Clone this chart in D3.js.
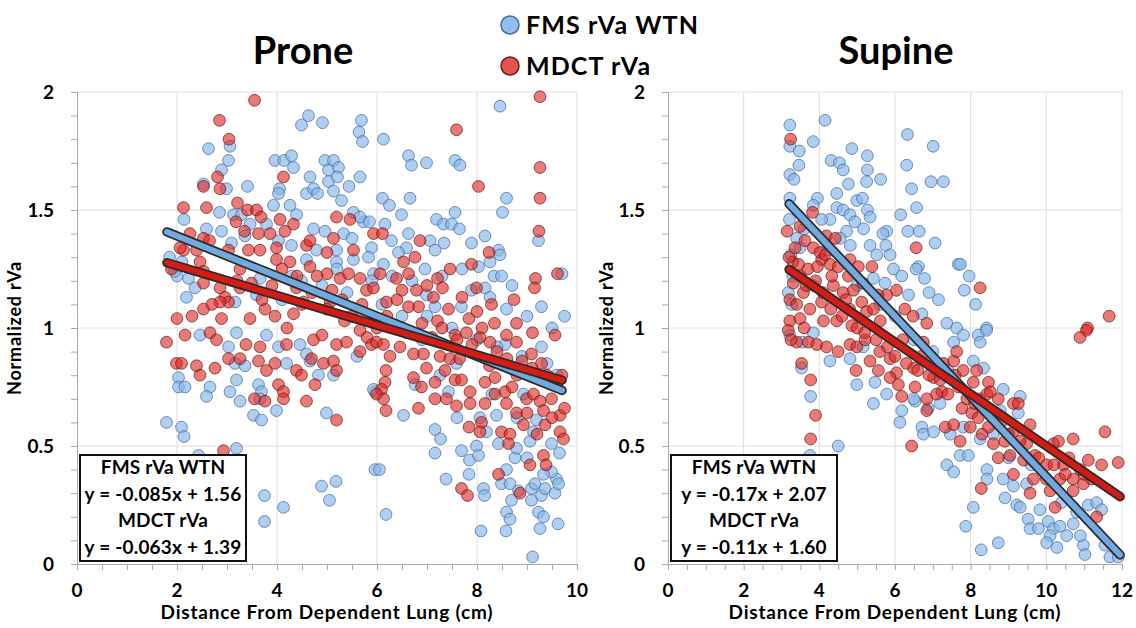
<!DOCTYPE html>
<html><head><meta charset="utf-8">
<script src="https://cdn.jsdelivr.net/npm/d3@7"></script>
<style>
html,body{margin:0;padding:0;background:#fff;}
svg{display:block;font-family:Lato,"Open Sans",sans-serif;}
</style></head>
<body><svg id="c" width="1136" height="628"></svg>
<script>
// ---------- DATA ----------
const seriesNames = ["FMS rVa WTN", "MDCT rVa"];
const panelTitles = ["Prone", "Supine"];
const xTitle = "Distance From Dependent Lung (cm)";
const yTitle = "Normalized rVa";
const proneXTicks = [0, 2, 4, 6, 8, 10];
const supineXTicks = [0, 2, 4, 6, 8, 10, 12];
const yTicks = [0, 0.5, 1, 1.5, 2];
const proneFit = { fms: [-0.085, 1.56], mdct: [-0.063, 1.39], range: [1.8, 9.7] };
const supineFit = { fms: [-0.17, 2.07], mdct: [-0.11, 1.60], range: [3.2, 11.95] };
const proneEq = ["FMS rVa WTN", "y = -0.085x + 1.56", "MDCT rVa", "y = -0.063x + 1.39"];
const supineEq = ["FMS rVa WTN", "y = -0.17x + 2.07", "MDCT rVa", "y = -0.11x + 1.60"];

const proneFms = [
[4.63,1.90],[4.49,1.86],[4.91,1.87],[5.69,1.88],[5.64,1.83],[5.71,1.79],[2.63,1.76],[3.06,1.77],[3.03,1.71],[2.89,1.67],[3.96,1.71],[4.14,1.71],[4.29,1.73],[4.33,1.68],[4.96,1.71],[5.13,1.71],[5.03,1.67],[5.23,1.68],[4.66,1.64],[5.03,1.62],[5.21,1.64],[5.66,1.64],[5.44,1.60],[2.53,1.61],[2.99,1.59],[3.41,1.60],[4.05,1.59],[4.03,1.57],[4.59,1.57],[4.73,1.59],[4.81,1.57],[5.13,1.58],[5.29,1.54],[3.93,1.52],[4.26,1.52],[4.39,1.48],[2.14,1.46],[2.85,1.49],[3.13,1.48],[3.29,1.48],[3.46,1.44],[2.59,1.42],[2.89,1.41],[3.09,1.36],[3.36,1.39],[3.79,1.44],[4.03,1.37],[4.29,1.35],[4.73,1.42],[4.96,1.41],[5.33,1.40],[5.53,1.49],[5.73,1.45],[5.66,1.47],[5.85,1.45],[5.89,1.34],[5.19,1.33],[4.79,1.33],[4.59,1.29],[5.19,1.28],[5.53,1.29],[5.83,1.30],[5.93,1.23],[2.0,1.22],[2.23,1.21],[2.36,1.17],[2.19,1.13],[3.66,1.21],[4.49,1.20],[3.16,1.11],[3.59,1.14],
[8.46,1.94],[6.13,1.80],[6.63,1.73],[6.69,1.69],[6.99,1.70],[7.56,1.71],[7.66,1.69],[6.11,1.55],[6.25,1.52],[6.66,1.55],[8.59,1.55],[8.51,1.49],[7.56,1.49],[6.49,1.48],[7.19,1.46],[7.33,1.44],[7.49,1.44],[7.65,1.42],[6.63,1.40],[8.16,1.39],[9.23,1.37],[6.16,1.44],[6.29,1.37],[7.06,1.37],[7.34,1.36],[7.89,1.36],[8.43,1.33],[8.46,1.31],[8.26,1.28],[8.03,1.26],[8.34,1.22],[8.49,1.22],[6.96,1.25],[7.16,1.33],[6.59,1.34],[6.43,1.32],[6.13,1.27],[7.89,1.16],[8.16,1.17],[8.26,1.13],[8.59,1.08],[9.29,1.09],[7.69,1.09],[6.99,1.14],[7.16,1.09],
[1.79,0.60],[2.09,0.58],[2.14,0.54],[2.03,0.79],[2.03,0.75],[2.16,0.75],[2.66,0.75],[2.59,0.71],[3.06,0.73],[3.26,0.69],[3.19,0.78],[3.03,0.92],[3.16,0.85],[3.36,0.84],[3.63,0.76],[3.69,0.73],[3.66,0.70],[3.53,0.63],[3.69,0.61],[3.99,0.65],[4.03,0.92],[4.19,0.85],[4.46,0.93],[4.66,0.86],[4.83,0.80],[5.13,0.80],[4.99,0.64],[3.19,0.49],[2.43,0.46],[3.75,0.29],[4.13,0.24],[3.75,0.18],[4.89,0.33],[5.18,0.35],[5.05,0.27],[5.96,0.73],[5.96,0.40],[2.46,0.97],[3.19,0.98],[3.79,0.97],[4.59,0.89],
[6.05,0.40],[6.18,0.21],[6.53,0.63],[7.16,0.57],[7.27,0.53],[7.16,0.47],[7.38,0.36],[7.69,0.48],[7.85,0.44],[7.84,0.38],[7.99,0.50],[8.03,0.46],[8.13,0.32],[8.15,0.29],[8.08,0.14],[8.43,0.51],[8.59,0.40],[8.76,0.45],[8.49,0.34],[8.66,0.34],[8.69,0.27],[8.59,0.22],[8.66,0.19],[8.58,0.14],[8.83,0.31],[9.09,0.32],[9.09,0.27],[9.16,0.34],[9.29,0.29],[9.23,0.22],[9.33,0.20],[9.26,0.15],[9.11,0.03],[9.36,0.32],[9.56,0.30],[9.59,0.36],[9.63,0.34],[9.62,0.17],[9.49,0.39],[9.33,0.38],[9.49,0.51],[9.65,0.47],[9.06,0.52],[9.13,0.56],[8.79,0.49],[8.19,0.56],[9.19,0.61],[8.93,0.72],[9.29,0.92],[8.56,0.93],[7.59,0.85],[7.26,0.80],[6.76,0.76],[5.93,0.74],[7.43,0.73],[8.06,0.62],[8.39,0.63],
[4.3,1.22],[4.9,1.18],[5.4,1.15],[6.1,1.1],[6.5,1.05],[7.0,1.05],[7.5,1.0],[8.0,0.95],[8.4,0.92],[8.9,0.88],[9.4,0.85],[9.6,0.8],[5.2,1.25],[6.7,1.2],[1.85,1.30],[1.95,1.24],[2.1,1.28],[9.7,1.23],[9.75,1.05],
[5.5,1.38],[5.9,1.2],[6.3,1.22],[7.3,1.22],[7.7,1.25],[8.7,1.18],[9.0,1.05],[9.5,1.0],[8.8,0.62],[9.0,0.45],[8.3,0.72],[7.6,0.62],[6.9,0.95],[5.6,0.88],[4.1,1.12]
];
const proneMdct = [
[3.55,1.965],[2.85,1.88],[3.04,1.80],[2.81,1.64],[2.53,1.60],[2.86,1.59],[4.13,1.64],[2.13,1.51],[2.59,1.51],[3.21,1.53],[3.41,1.50],[3.59,1.50],[3.68,1.47],[3.18,1.45],[4.06,1.46],[4.33,1.44],[5.19,1.47],[5.46,1.46],[5.93,1.40],[2.26,1.40],[2.53,1.38],[2.13,1.33],[2.06,1.34],[2.65,1.37],[3.35,1.41],[3.63,1.40],[3.86,1.40],[4.16,1.41],[4.59,1.35],[4.66,1.37],[5.13,1.38],[5.0,1.32],[5.53,1.33],[2.39,1.33],[3.03,1.33],[3.43,1.33],[3.66,1.33],[3.99,1.34],[2.46,1.28],[3.99,1.29],[4.26,1.28],[4.66,1.26],[1.89,1.25],[2.53,1.24],[3.26,1.25],[5.0,1.23],[5.26,1.21],[5.43,1.23],[5.66,1.21],[5.79,1.16],[2.53,1.19],[2.86,1.17],[2.96,1.13],[3.03,1.11],[2.86,1.11],[2.53,1.08],[2.89,1.04],[3.26,1.17],[3.49,1.19],[3.76,1.08],[3.96,1.05],[2.0,1.04],[3.46,1.04],[4.33,1.06],[4.53,1.11],[5.06,1.11],[5.93,1.03],[4.39,1.17],
[9.26,1.98],[7.59,1.84],[9.26,1.68],[8.03,1.60],[9.26,1.55],[9.24,1.41],[6.11,1.40],[6.86,1.37],[6.76,1.30],[6.53,1.28],[8.24,1.32],[7.89,1.27],[7.46,1.25],[9.61,1.23],[9.17,1.21],[9.15,1.17],[7.99,1.17],[8.74,1.12],[8.29,1.10],[7.21,1.21],[7.31,1.17],[7.13,1.13],[6.06,1.23],[6.39,1.21],[6.63,1.23],[6.79,1.16],[6.83,1.09],[6.63,1.09],[6.19,1.11],[7.43,1.08],[7.84,1.04],[8.79,1.02],[7.21,1.03],[5.93,1.17],
[1.79,0.94],[2.16,0.97],[2.66,0.98],[2.79,0.95],[1.99,0.85],[2.09,0.85],[2.39,0.84],[2.46,0.80],[2.76,0.83],[3.03,0.87],[3.26,0.87],[3.38,0.93],[3.63,0.86],[3.66,0.92],[3.79,0.82],[3.96,0.85],[4.03,0.76],[4.13,0.73],[4.13,0.70],[3.55,0.70],[3.76,0.69],[4.59,0.69],[4.76,0.76],[4.39,0.82],[4.49,0.80],[4.19,0.93],[4.73,0.95],[4.69,0.87],[4.93,0.85],[5.13,0.86],[5.19,0.82],[5.19,0.61],[5.19,0.93],[5.39,0.94],[5.66,0.90],[5.66,0.99],[5.89,0.93],[2.93,0.48],
[5.99,0.94],[6.13,0.93],[6.46,0.92],[6.26,0.88],[6.73,0.89],[6.93,0.89],[7.26,0.88],[7.46,0.87],[7.65,0.87],[7.56,0.97],[7.79,0.98],[8.06,0.96],[8.26,0.94],[8.59,0.97],[8.79,0.94],[9.11,0.98],[9.56,0.97],[9.09,0.89],[9.29,0.85],[6.18,0.82],[6.16,0.77],[6.09,0.74],[6.13,0.70],[6.18,0.65],[6.73,0.79],[6.89,0.75],[6.83,0.66],[6.99,0.83],[7.16,0.77],[7.16,0.70],[7.36,0.82],[7.39,0.70],[7.56,0.78],[7.59,0.67],[7.69,0.78],[7.86,0.73],[7.86,0.68],[7.84,0.58],[8.09,0.60],[8.06,0.56],[8.16,0.77],[8.16,0.68],[8.36,0.79],[8.36,0.72],[8.56,0.73],[8.59,0.68],[8.49,0.56],[8.66,0.55],[8.79,0.64],[8.93,0.59],[8.99,0.70],[9.13,0.72],[9.26,0.69],[9.33,0.65],[9.36,0.59],[9.49,0.70],[9.66,0.63],[9.66,0.56],[9.73,0.53],[9.33,0.46],[9.38,0.42],[9.06,0.42],[8.43,0.38],[7.69,0.32],[7.81,0.29],[8.86,0.30],[8.63,0.51],[5.99,0.72],
[4.2,1.0],[4.5,1.1],[4.7,1.15],[5.0,1.08],[5.3,1.12],[5.5,1.05],[5.7,1.1],[6.0,1.0],[6.2,1.05],[6.4,1.12],[6.6,0.98],[6.9,1.02],[7.1,0.96],[7.3,1.0],[7.6,0.95],[7.9,0.93],[8.1,1.0],[8.4,0.9],[8.6,0.87],[8.9,0.86],[9.1,0.83],[9.4,0.8],[9.6,0.76],[9.7,0.8],[3.7,1.12],[3.2,1.2],[2.7,1.1],[2.3,1.05],[4.9,0.97],[5.8,0.96],
[3.9,1.18],[4.1,1.25],[4.4,1.22],[4.8,1.22],[5.1,1.16],[5.35,1.03],[6.5,1.16],[7.0,1.18],[7.7,1.13],[8.0,1.07],[8.35,1.02],[8.8,0.8],[9.0,0.64],[9.2,0.55],[9.5,0.62],[9.75,0.66],[8.7,0.75],[8.25,0.84]
];
const supineFms = [
[3.22,1.86],[4.15,1.88],[3.84,1.79],[3.22,1.77],[3.47,1.75],[3.46,1.69],[3.22,1.65],[3.33,1.63],[4.86,1.76],[4.31,1.71],[4.53,1.70],[4.63,1.67],[5.27,1.73],[5.27,1.67],[5.25,1.62],[5.62,1.63],[4.77,1.61],[6.33,1.82],[7.01,1.77],[6.31,1.69],[6.95,1.62],[7.28,1.62],[6.44,1.59],[6.57,1.51],[6.15,1.48],[6.34,1.41],[6.64,1.41],[7.06,1.36],[3.22,1.55],[3.21,1.46],[3.95,1.55],[3.84,1.52],[4.46,1.57],[4.46,1.51],[4.63,1.50],[4.81,1.48],[4.99,1.54],[5.14,1.55],[5.27,1.50],[5.34,1.47],[4.28,1.46],[4.06,1.46],[4.94,1.45],[5.17,1.42],[4.72,1.41],[4.55,1.38],[4.82,1.35],[5.78,1.41],[5.68,1.40],[5.34,1.35],[5.76,1.35],[5.52,1.31],[5.87,1.31],[5.96,1.25],[6.18,1.22],[5.74,1.19],[6.36,1.14],[6.62,1.26],[6.56,1.25],[6.78,1.21],[7.67,1.27],[7.73,1.27],[7.96,1.22],[7.83,1.16],[8.13,1.10],[6.90,1.15],[7.15,1.12],[6.71,1.06],[7.37,1.02],[7.63,1.00],[8.42,1.00],[3.25,1.31],[3.49,1.34],[3.18,1.15],[3.27,1.10],[3.84,1.18],[5.43,1.21],
[3.53,0.83],[3.77,0.71],[4.50,0.50],[3.75,0.46],[4.99,0.76],[5.43,0.68],[5.47,0.77],[6.18,0.65],[6.13,0.60],[6.53,0.69],[6.71,0.58],[6.75,0.55],[7.02,0.56],[7.46,0.55],[7.37,0.42],[7.55,0.39],[7.72,0.46],[7.94,0.46],[8.07,0.24],[7.87,0.16],[8.28,0.06],[8.73,0.09],[8.43,0.40],[8.43,0.36],[8.86,0.36],[8.91,0.28],[9.13,0.33],[9.22,0.25],[9.31,0.24],[9.48,0.34],[9.52,0.19],[9.57,0.15],[9.79,0.15],[9.83,0.23],[10.05,0.18],[10.19,0.15],[10.36,0.16],[10.10,0.12],[10.01,0.09],[10.28,0.07],[10.54,0.12],[10.71,0.17],[10.80,0.22],[11.11,0.25],[11.33,0.26],[11.46,0.23],[10.98,0.08],[11.02,0.04],[11.55,0.08],[11.68,0.03],[11.90,0.03],[7.81,0.97],[8.20,0.97],[8.42,0.99],[8.25,0.94],[7.55,0.94],[8.07,0.86],[8.34,0.83],[8.86,0.74],[9.31,0.71],[9.26,0.64],[8.78,0.65],[8.25,0.53],[7.81,0.58],[7.19,0.68],[6.88,0.66],[6.49,0.70],[5.78,0.72],[5.16,0.92],[4.81,0.87],[4.28,0.86],[3.84,0.98],[3.55,0.94],[3.22,0.97],
[3.4,1.38],[3.6,1.42],[3.3,1.22],[4.2,1.33],[5.0,1.18],[5.6,1.10],[6.0,1.05],[6.5,0.95],[7.0,0.9],[7.4,0.82],[8.6,0.55],[9.0,0.45],[9.6,0.42],[10.4,0.26],[10.9,0.12]
];
const supineMdct = [
[3.24,1.80],[6.56,1.34],[8.25,1.17],[11.66,1.05],[11.09,1.00],[3.82,1.49],[3.15,1.41],[3.36,1.34],[3.49,1.43],[3.62,1.37],[3.84,1.34],[4.19,1.39],[4.42,1.38],[4.06,1.29],[4.02,1.32],[4.28,1.27],[4.81,1.29],[5.03,1.26],[5.39,1.26],[3.31,1.19],[3.22,1.12],[3.58,1.15],[3.75,1.08],[4.06,1.11],[4.37,1.18],[4.63,1.15],[4.77,1.22],[4.90,1.16],[5.12,1.11],[5.25,1.07],[5.43,1.08],[4.46,1.03],[4.11,1.03],[3.22,1.03],[3.49,1.04],[4.86,1.01],[5.78,1.14],[6.04,1.16],[6.26,1.08],[6.48,1.05],[6.84,1.02],[5.61,1.03],[4.33,1.22],
[11.06,0.99],[10.89,0.96],[3.53,0.85],[3.77,0.78],[3.90,0.63],[3.77,0.53],[4.97,0.82],[6.44,0.50],[3.18,0.99],[3.40,0.94],[3.71,0.94],[3.93,0.93],[4.19,0.92],[4.50,0.90],[4.81,0.93],[4.99,0.92],[5.21,0.95],[5.34,0.86],[5.56,0.82],[5.60,0.90],[5.87,0.87],[6.04,0.81],[5.87,0.79],[6.09,0.76],[6.18,0.71],[6.53,0.75],[6.49,0.83],[6.75,0.94],[6.84,0.70],[6.84,0.65],[7.02,0.79],[7.24,0.73],[7.28,0.85],[7.55,0.86],[7.63,0.90],[7.59,0.80],[7.68,0.75],[7.77,0.66],[8.03,0.64],[7.33,0.58],[7.55,0.59],[7.72,0.52],[7.99,0.58],[8.20,0.62],[8.24,0.70],[8.16,0.82],[8.47,0.77],[8.43,0.72],[8.73,0.70],[8.47,0.58],[8.60,0.51],[8.73,0.45],[9.04,0.46],[9.13,0.56],[9.13,0.68],[9.26,0.68],[9.57,0.59],[9.48,0.51],[9.70,0.46],[9.13,0.38],[9.66,0.36],[9.57,0.30],[10.01,0.42],[10.19,0.51],[10.32,0.52],[10.10,0.31],[10.36,0.36],[10.45,0.42],[10.71,0.53],[10.71,0.36],[10.98,0.34],[11.11,0.44],[11.46,0.42],[11.55,0.56],[11.90,0.43],[10.71,0.31],[11.33,0.20],[10.23,0.24],[8.28,0.32],[8.07,0.77],[8.52,0.73],
[3.3,1.28],[3.5,1.22],[3.7,1.25],[3.9,1.2],[4.1,1.15],[4.3,1.08],[4.6,1.05],[4.8,1.08],[5.0,1.0],[5.2,0.98],[5.5,0.95],[5.8,0.92],[6.0,0.88],[6.3,0.85],[6.6,0.82],[6.9,0.8],[7.2,0.78],[7.4,0.72],[7.9,0.7],[8.1,0.68],[8.4,0.65],[8.8,0.6],[9.0,0.55],[9.3,0.52],[9.8,0.45],[10.2,0.42],[10.5,0.38],[10.9,0.4],[11.2,0.36],[3.25,0.95],[3.4,1.1],[3.6,1.0],
[3.2,1.3],[3.45,1.27],[3.65,1.18],[3.95,1.26],[4.15,1.31],[4.5,1.26],[4.7,1.12],[5.15,1.19],[5.55,1.14],[6.2,0.95],[6.7,0.88],[7.1,0.72],[7.8,0.82],[8.3,0.55],[8.9,0.52],[9.4,0.44],[10.0,0.36],[10.6,0.45],[11.0,0.38]
];

// ---------- STYLE ----------
const blueFill = "rgba(135,182,232,0.66)", blueStroke = "rgba(55,95,150,0.75)";
const redFill = "rgba(220,40,35,0.62)", redStroke = "rgba(100,15,15,0.75)";
const svg = d3.select("#c");
const yTop = 92, yBot = 564;

function panel(o) {
  const x = d3.scaleLinear().domain([0, o.xMax]).range([o.x0, o.x1]);
  const y = d3.scaleLinear().domain([0, 2]).range([yBot, yTop]);
  const g = svg.append("g");
  g.selectAll(".vg").data(o.xTicks.filter(d => d > 0)).join("line")
    .attr("x1", d => x(d)).attr("x2", d => x(d)).attr("y1", yTop).attr("y2", yBot)
    .attr("stroke", "#dedede").attr("stroke-width", 1);
  g.selectAll(".hg").data(yTicks.filter(d => d > 0)).join("line")
    .attr("x1", o.x0).attr("x2", o.x1).attr("y1", d => y(d)).attr("y2", d => y(d))
    .attr("stroke", "#dedede").attr("stroke-width", 1);
  const yAx = d3.axisLeft(y).tickValues(d3.range(0, 2.0001, 0.1)).tickSize(6).tickFormat(() => "");
  const ya = g.append("g").attr("transform", `translate(${o.x0},0)`).call(yAx);
  ya.selectAll("path,line").attr("stroke", "#a8a8a8");
  const xAx = d3.axisBottom(x).tickValues(d3.range(0, o.xMax + 0.001, 0.5)).tickSize(6).tickFormat(() => "");
  const xa = g.append("g").attr("transform", `translate(0,${yBot})`).call(xAx);
  xa.selectAll("path,line").attr("stroke", "#a8a8a8");
  g.selectAll(".yl").data(yTicks).join("text")
    .attr("x", o.x0 - 23).attr("y", d => y(d) + 7).attr("text-anchor", "end")
    .attr("font-size", 19).attr("font-weight", 700).text(d => d);
  g.selectAll(".xl").data(o.xTicks).join("text")
    .attr("x", d => x(d)).attr("y", 597).attr("text-anchor", "middle")
    .attr("font-size", 19).attr("font-weight", 700).text(d => d);
  g.append("text").attr("x", (o.x0 + o.x1) / 2).attr("y", 619).attr("text-anchor", "middle")
    .attr("font-size", 19).attr("letter-spacing", 0.8).attr("font-weight", 700).text(xTitle);
  g.append("text").attr("transform", `translate(${o.yTitleX},${(yTop + yBot) / 2}) rotate(-90)`)
    .attr("text-anchor", "middle").attr("font-size", 18).attr("letter-spacing", 0.8).attr("font-weight", 700).text(yTitle);
  g.append("text").attr("x", o.titleX).attr("y", 64).attr("text-anchor", "middle")
    .attr("font-size", 38).attr("font-weight", 700).text(o.title);
  const pts = g.append("g");
  pts.selectAll(".b").data(o.fms).join("circle")
    .attr("cx", d => x(d[0])).attr("cy", d => y(d[1])).attr("r", 5.9)
    .attr("fill", blueFill).attr("stroke", blueStroke).attr("stroke-width", 0.9);
  pts.selectAll(".r").data(o.mdct).join("circle")
    .attr("cx", d => x(d[0])).attr("cy", d => y(d[1])).attr("r", 5.9)
    .attr("fill", redFill).attr("stroke", redStroke).attr("stroke-width", 0.9);
  const line = d3.line().x(d => x(d[0])).y(d => y(d[1]));
  function trend(coef, col) {
    const d = o.fit.range.map(v => [v, coef[0] * v + coef[1]]);
    g.append("path").attr("d", line(d)).attr("stroke", "#2a2a2a").attr("stroke-width", 9.5)
      .attr("stroke-linecap", "round").attr("fill", "none");
    g.append("path").attr("d", line(d)).attr("stroke", col).attr("stroke-width", 6)
      .attr("stroke-linecap", "round").attr("fill", "none");
  }
  trend(o.fit.fms, "#72aae0");
  trend(o.fit.mdct, "#d41c16");
  const bx = o.x0 + 3, bw = 166, by = 455, bh = 106;
  g.append("rect").attr("x", bx).attr("y", by).attr("width", bw).attr("height", bh)
    .attr("fill", "#fff").attr("stroke", "#111").attr("stroke-width", 2);
  g.selectAll(".eq").data(o.eq).join("text")
    .attr("x", bx + bw / 2).attr("y", (d, i) => 474 + i * 26.6).attr("text-anchor", "middle")
    .attr("font-size", 19).attr("letter-spacing", 0.2).attr("font-weight", 700).text(d => d);
}

panel({ x0: 77, x1: 577, xMax: 10, xTicks: proneXTicks, fms: proneFms, mdct: proneMdct,
        fit: proneFit, eq: proneEq, title: panelTitles[0], titleX: 303, yTitleX: 21 });
panel({ x0: 668, x1: 1122, xMax: 12, xTicks: supineXTicks, fms: supineFms, mdct: supineMdct,
        fit: supineFit, eq: supineEq, title: panelTitles[1], titleX: 896, yTitleX: 613 });

const leg = svg.append("g");
const legData = [[seriesNames[0], "rgb(145,190,235)", "rgb(70,105,160)", 25], [seriesNames[1], "rgb(226,84,80)", "rgb(120,25,25)", 66]];
leg.selectAll("circle").data(legData).join("circle")
  .attr("cx", 510).attr("cy", d => d[3]).attr("r", 9)
  .attr("fill", d => d[1]).attr("stroke", d => d[2]).attr("stroke-width", 1.5);
leg.selectAll("text").data(legData).join("text")
  .attr("x", 526).attr("y", d => d[3] + 9).attr("font-size", 25).attr("letter-spacing", 1.1)
  .attr("font-weight", 700).text(d => d[0]);
</script></body></html>
